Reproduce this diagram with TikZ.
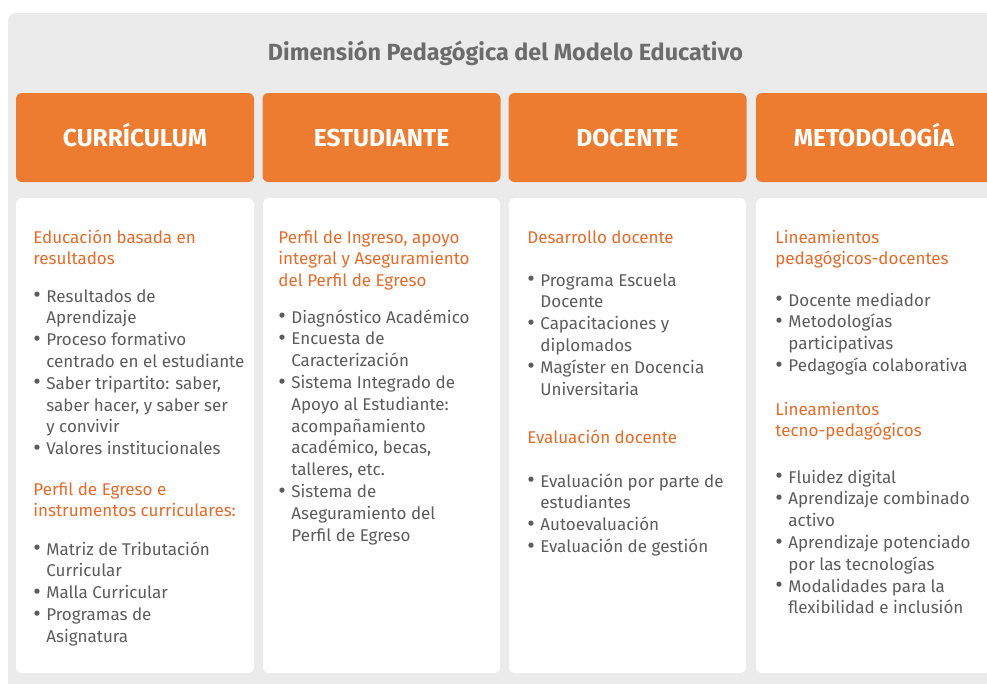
\documentclass[tikz,border=0pt]{standalone}
\usepackage{fontspec}
\setmainfont{Fira Sans}
\definecolor{bgGray}{RGB}{235,235,235}
\definecolor{headOrange}{RGB}{238,124,48}
\definecolor{subOrange}{RGB}{233,106,40}
\definecolor{txtGray}{RGB}{92,92,92}
\definecolor{titleGray}{RGB}{108,108,108}
\newcommand{\bul}{\makebox[13pt][l]{\raisebox{-0.6pt}{\scalebox{1.35}{\textbullet}}}}
\newcommand{\ind}{\hspace*{13pt}}

\tikzset{every picture/.style={line width=0.75pt}}
\tikzset{
  colhead/.style={fill=headOrange, draw=none, rounded corners=6, minimum width=238, minimum height=89, text height=17, text depth=0, inner sep=0pt, text=white, font=\fontsize{24.5}{28}\selectfont\bfseries},
  sub/.style={anchor=base west, inner sep=0pt, align=left, text=subOrange, font=\fontsize{17}{21.8}\selectfont},
  items/.style={anchor=base west, inner sep=0pt, align=left, text=txtGray, font=\fontsize{17}{21.8}\selectfont}
}

\begin{document}
\begin{tikzpicture}[x=1pt,y=1pt,yscale=-1,xscale=1]
  \useasboundingbox (0,0) rectangle (987,683);
  \clip (0,0) rectangle (987,683);

  %Shape: Rounded Rect
  \draw [fill=bgGray, draw=none, rounded corners=8] (8,13) rectangle (1020,700);
  %Shape: Rounded Rect
  \draw [fill=white, draw=none, rounded corners=6] (16,198) rectangle (254,673);
  %Shape: Rounded Rect
  \draw [fill=white, draw=none, rounded corners=6] (263,198) rectangle (500,673);
  %Shape: Rounded Rect
  \draw [fill=white, draw=none, rounded corners=6] (509,198) rectangle (746,673);
  %Shape: Rounded Rect
  \draw [fill=white, draw=none, rounded corners=6] (756,198) rectangle (1000,673);

  % Text Node
  \draw (505.5,60) node (title) [anchor=base, inner sep=0pt, text=titleGray, font=\fontsize{23.4}{26}\selectfont\bfseries] {Dimensión Pedagógica del Modelo Educativo};

  % Header Nodes
  \draw (135,137.5) node (curHead) [colhead] {CURRÍCULUM};
  \draw (381.5,137.5) node (estHead) [colhead] {ESTUDIANTE};
  \draw (627.5,137.5) node (docHead) [colhead] {DOCENTE};
  \draw (874,137.5) node (metHead) [colhead, minimum width=236] {METODOLOGÍA};

  % Text Node (anchored at the baseline of the last line)
  \draw (33,264.8) node (curSubA) [sub] {Educación basada en\\resultados};
  % Text Node
  \draw (33,454.6) node (curListA) [items] {\bul Resultados de\\
    \ind Aprendizaje\\
    \bul Proceso formativo\\
    \ind centrado en el estudiante\\
    \bul Saber tripartito: saber,\\
    \ind saber hacer, y saber ser\\
    \ind y convivir\\
    \bul Valores institucionales};
  % Text Node
  \draw (33,516.8) node (curSubB) [sub] {Perfil de Egreso e\\instrumentos curriculares:};
  % Text Node
  \draw (33,642.2) node (curListB) [items] {\bul Matriz de Tributación\\
    \ind Curricular\\
    \bul Malla Curricular\\
    \bul Programas de\\
    \ind Asignatura};

  % Text Node
  \draw (278,286.6) node (estSubA) [sub] {Perfil de Ingreso, apoyo\\integral y Aseguramiento\\del Perfil de Egreso};
  % Text Node
  \draw (278,541) node (estListA) [items] {\bul Diagnóstico Académico\\
    \bul Encuesta de\\
    \ind Caracterización\\
    \bul Sistema Integrado de\\
    \ind Apoyo al Estudiante:\\
    \ind acompañamiento\\
    \ind académico, becas,\\
    \ind talleres, etc.\\
    \bul Sistema de\\
    \ind Aseguramiento del\\
    \ind Perfil de Egreso};

  % Text Node
  \draw (527,243) node (docSubA) [sub] {Desarrollo docente};
  % Text Node
  \draw (527,395) node (docListA) [items] {\bul Programa Escuela\\
    \ind Docente\\
    \bul Capacitaciones y\\
    \ind diplomados\\
    \bul Magíster en Docencia\\
    \ind Universitaria};
  % Text Node
  \draw (527,443) node (docSubB) [sub] {Evaluación docente};
  % Text Node
  \draw (527,552.4) node (docListB) [items] {\bul Evaluación por parte de\\
    \ind estudiantes\\
    \bul Autoevaluación\\
    \bul Evaluación de gestión};

  % Text Node
  \draw (775,264.8) node (metSubA) [sub] {Lineamientos\\pedagógicos-docentes};
  % Text Node
  \draw (775,371.4) node (metListA) [items] {\bul Docente mediador\\
    \bul Metodologías\\
    \ind participativas\\
    \bul Pedagogía colaborativa};
  % Text Node
  \draw (775,436.8) node (metSubB) [sub] {Lineamientos\\tecno-pedagógicos};
  % Text Node
  \draw (775,613.8) node (metListB) [items] {\bul Fluidez digital\\
    \bul Aprendizaje combinado\\
    \ind activo\\
    \bul Aprendizaje potenciado\\
    \ind por las tecnologías\\
    \bul Modalidades para la\\
    \ind flexibilidad e inclusión};

\end{tikzpicture}
\end{document}
